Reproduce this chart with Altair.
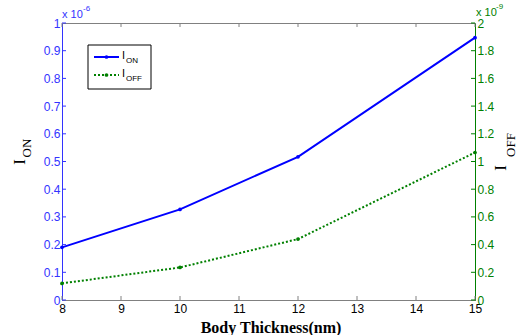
import altair as alt
import pandas as pd

thickness = [8, 10, 12, 15]
i_on = [0.19, 0.327, 0.517, 0.947]      # x 1e-6
i_off = [0.12, 0.235, 0.44, 1.065]      # x 1e-9

x_ticks = [8, 9, 10, 11, 12, 13, 14, 15]
yl_ticks = [0, 0.1, 0.2, 0.3, 0.4, 0.5, 0.6, 0.7, 0.8, 0.9, 1.0]
yr_ticks = [0, 0.2, 0.4, 0.6, 0.8, 1.0, 1.2, 1.4, 1.6, 1.8, 2.0]

BLUE = "#0000ff"
LBLUE = "#3333ff"
GREEN = "#008000"
GRAY = "#808080"
W, H = 413, 277

df = pd.DataFrame({"t": thickness, "on": i_on, "off": i_off})
dxt = pd.DataFrame({"v": x_ticks})
dyl = pd.DataFrame({"v": yl_ticks})
dyr = pd.DataFrame({"v": yr_ticks})

xs = alt.Scale(domain=[8, 15], nice=False, zero=False)
yls = alt.Scale(domain=[0, 1], nice=False)
yrs = alt.Scale(domain=[0, 2], nice=False)

INT_OR_1F = "datum.value == 0 || datum.value == 1 || datum.value == 2 ? format(datum.value, 'd') : format(datum.value, '.1f')"

xax = alt.Axis(values=x_ticks, title=None, grid=False, tickSize=0, labelPadding=3,
               domainColor=GRAY, labelColor="black", labelFont="Liberation Sans",
               labelFontSize=12, format="d", labelOverlap=False, labelFlush=False)
axL = alt.Axis(orient="left", values=yl_ticks, title=None, grid=False,
               tickSize=0, labelPadding=2, domainColor=LBLUE, labelColor=LBLUE,
               labelFont="Liberation Sans", labelFontSize=12, labelExpr=INT_OR_1F,
               labelOverlap=False, labelFlush=False)
axR = alt.Axis(orient="right", values=yr_ticks, title=None, grid=False,
               tickSize=0, labelPadding=2, domainColor=GREEN, labelColor=GREEN,
               labelFont="Liberation Sans", labelFontSize=12, labelExpr=INT_OR_1F,
               labelOverlap=False, labelFlush=False)

base = alt.Chart(df)

on_line = base.mark_line(color=BLUE, strokeWidth=2).encode(
    x=alt.X("t:Q", scale=xs, axis=xax), y=alt.Y("on:Q", scale=yls, axis=axL))
on_pts = base.mark_point(color=BLUE, filled=True, size=14, opacity=1).encode(
    x=alt.X("t:Q", scale=xs, axis=xax), y=alt.Y("on:Q", scale=yls, axis=axL))
tl = alt.Chart(dyl).mark_rule(color=LBLUE).encode(
    y=alt.Y("v:Q", scale=yls, axis=axL), x=alt.value(0), x2=alt.value(4))
tb = alt.Chart(dxt).mark_rule(color=GRAY).encode(
    x=alt.X("v:Q", scale=xs, axis=xax), y=alt.value(H - 4), y2=alt.value(H))
tt = alt.Chart(dxt).mark_rule(color=GRAY).encode(
    x=alt.X("v:Q", scale=xs, axis=xax), y=alt.value(0), y2=alt.value(4))

left = alt.layer(on_line, on_pts, tl, tb, tt)

off_line = base.mark_line(color=GREEN, strokeWidth=2, strokeDash=[2, 2]).encode(
    x=alt.X("t:Q", scale=xs, axis=xax), y=alt.Y("off:Q", scale=yrs, axis=axR))
off_pts = base.mark_point(color=GREEN, filled=True, size=14, opacity=1).encode(
    x=alt.X("t:Q", scale=xs, axis=xax), y=alt.Y("off:Q", scale=yrs, axis=axR))
tr = alt.Chart(dyr).mark_rule(color=GREEN).encode(
    y=alt.Y("v:Q", scale=yrs, axis=axR), x=alt.value(W - 4), x2=alt.value(W))

right = alt.layer(off_line, off_pts, tr)

one = pd.DataFrame({"a": [0]})
def txt(s, x, y, size, color="black", font="Liberation Sans", weight="normal", angle=0,
        align="left", baseline="middle"):
    return alt.Chart(one).mark_text(text=s, fontSize=size, color=color, font=font, fontWeight=weight,
                                    angle=angle, align=align, baseline=baseline).encode(
        x=alt.value(x), y=alt.value(y))

legend_box = alt.Chart(one).mark_rect(fill="white", stroke="black", strokeWidth=1).encode(
    x=alt.value(26), x2=alt.value(89), y=alt.value(22), y2=alt.value(66))
leg_on = alt.Chart(one).mark_rule(color=BLUE, strokeWidth=2).encode(
    x=alt.value(32), x2=alt.value(57), y=alt.value(34))
leg_on_pt = alt.Chart(one).mark_point(color=BLUE, filled=True, size=14, opacity=1).encode(
    x=alt.value(44.5), y=alt.value(34))
leg_off = alt.Chart(one).mark_rule(color=GREEN, strokeWidth=2, strokeDash=[2, 2]).encode(
    x=alt.value(32), x2=alt.value(57), y=alt.value(52))
leg_off_pt = alt.Chart(one).mark_point(color=GREEN, filled=True, size=14, opacity=1).encode(
    x=alt.value(44.5), y=alt.value(52))

annos = alt.layer(
    legend_box, leg_on, leg_on_pt, leg_off, leg_off_pt,
    txt("I", 60, 33, 11), txt("ON", 64, 38, 8),
    txt("I", 60, 51, 11), txt("OFF", 64, 56, 8),
    txt("x 10", 0, -8, 11, color=LBLUE), txt("-6", 21, -14, 8, color=LBLUE),
    txt("x 10", W + 1, -10, 11, color=GREEN), txt("-9", W + 21, -16, 8, color=GREEN),
    txt("I", -42, 139, 17, font="Liberation Serif", angle=270, align="center"),
    txt("ON", -35, 125, 13, font="Liberation Serif", angle=270, align="center"),
    txt("I", 439, 145, 17, font="Liberation Serif", angle=270, align="center"),
    txt("OFF", 449, 122, 13, font="Liberation Serif", angle=270, align="center"),
    txt("Body Thickness(nm)", 209, 305, 16, font="Liberation Serif", weight="bold", align="center"),
)

chart = alt.layer(left, right, annos).resolve_scale(y="independent").properties(
    width=W, height=H,
    autosize=alt.AutoSizeParams(type="none"),
    padding={"left": 62, "top": 23, "right": 44, "bottom": 35},
    background="white",
).configure_view(stroke=GRAY, strokeWidth=1)

chart.save("out.html", embed_options={"renderer": "svg", "actions": False})
